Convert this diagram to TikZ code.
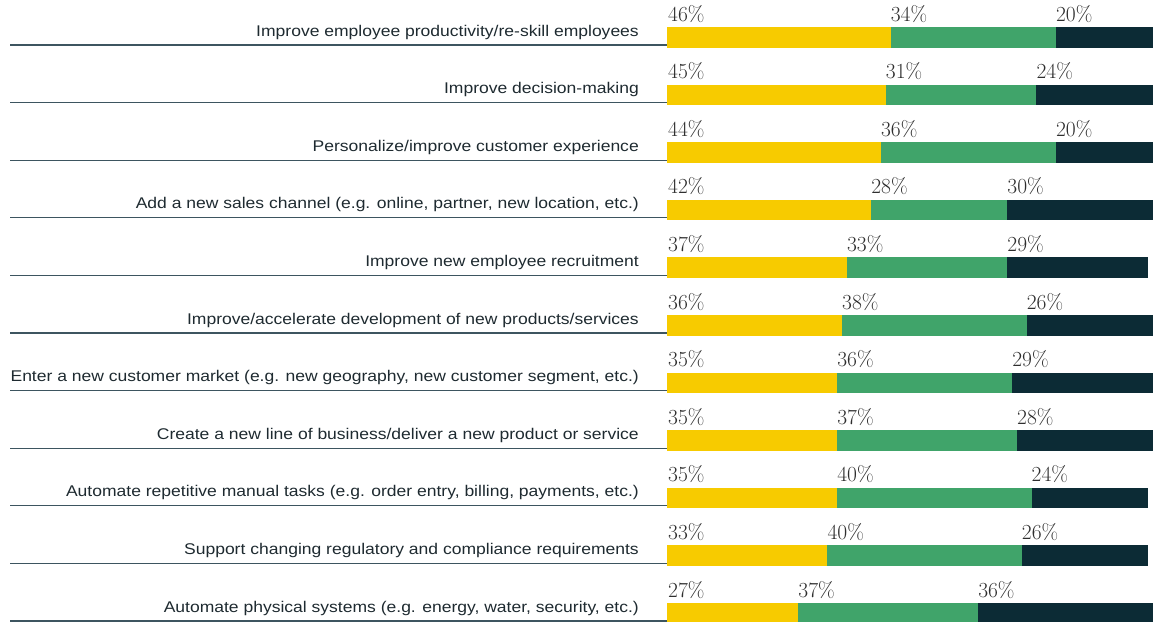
\documentclass[tikz,border=0pt]{standalone}
\usepackage{fontspec}
\newfontfamily\labfont[FakeStretch=1.13]{Liberation Sans}
\definecolor{cy}{HTML}{F7CB00}
\definecolor{cg}{HTML}{40A46A}
\definecolor{cd}{HTML}{0C2B35}
\definecolor{ctxt}{HTML}{1E2A30}
\definecolor{cpct}{HTML}{2E2E2E}
\definecolor{cline}{HTML}{3D5560}
\tikzset{
  seg/.style={draw=none,inner sep=0pt,outer sep=0pt,minimum height=20.5pt,anchor=north west},
  pct/.style={inner sep=0pt,anchor=base west,text=cpct,font=\fontsize{21.5}{24}\selectfont},
  lab/.style={inner sep=0pt,anchor=base east,text=ctxt,font=\labfont\fontsize{15.5}{18}\selectfont},
  sep/.style={draw=cline,line width=1.3pt}
}
\newcommand\chartrow[5]{%
  \pgfmathsetmacro\yt{27+57.6*(#1-1)}%
  \pgfmathsetmacro\wa{4.86*#3}%
  \pgfmathsetmacro\wb{4.86*#4}%
  \pgfmathsetmacro\wc{4.86*#5}%
  \pgfmathsetmacro\xb{667+\wa}%
  \pgfmathsetmacro\xc{\xb+\wb}%
  \coordinate (s#1) at (10,\yt+18);
  \node[seg,fill=cy,minimum width=\wa pt] (y#1) at (667,\yt) {};
  \node[seg,fill=cg,minimum width=\wb pt] (g#1) at (\xb,\yt) {};
  \node[seg,fill=cd,minimum width=\wc pt] (d#1) at (\xc,\yt) {};
  \draw[sep] (s#1) -- (s#1 -| y#1.west);
  \node[lab] (l#1) at (639,\yt+9) {#2};
  \node[pct] (py#1) at ([xshift=1pt,yshift=6pt]y#1.north west) {#3\%};
  \node[pct] (pg#1) at ([xshift=0pt,yshift=6pt]g#1.north west) {#4\%};
  \node[pct] (pd#1) at ([xshift=0pt,yshift=6pt]d#1.north west) {#5\%};
}
\begin{document}
\begin{tikzpicture}[x=1pt,y=-1pt]
\useasboundingbox (0,0) rectangle (1159,621);
\chartrow{1}{Improve employee productivity/re-skill employees}{46}{34}{20}
\chartrow{2}{Improve decision-making}{45}{31}{24}
\chartrow{3}{Personalize/improve customer experience}{44}{36}{20}
\chartrow{4}{Add a new sales channel (e.g. online, partner, new location, etc.)}{42}{28}{30}
\chartrow{5}{Improve new employee recruitment}{37}{33}{29}
\chartrow{6}{Improve/accelerate development of new products/services}{36}{38}{26}
\chartrow{7}{Enter a new customer market (e.g. new geography, new customer segment, etc.)}{35}{36}{29}
\chartrow{8}{Create a new line of business/deliver a new product or service}{35}{37}{28}
\chartrow{9}{Automate repetitive manual tasks (e.g. order entry, billing, payments, etc.)}{35}{40}{24}
\chartrow{10}{Support changing regulatory and compliance requirements}{33}{40}{26}
\chartrow{11}{Automate physical systems (e.g. energy, water, security, etc.)}{27}{37}{36}
\end{tikzpicture}
\end{document}
